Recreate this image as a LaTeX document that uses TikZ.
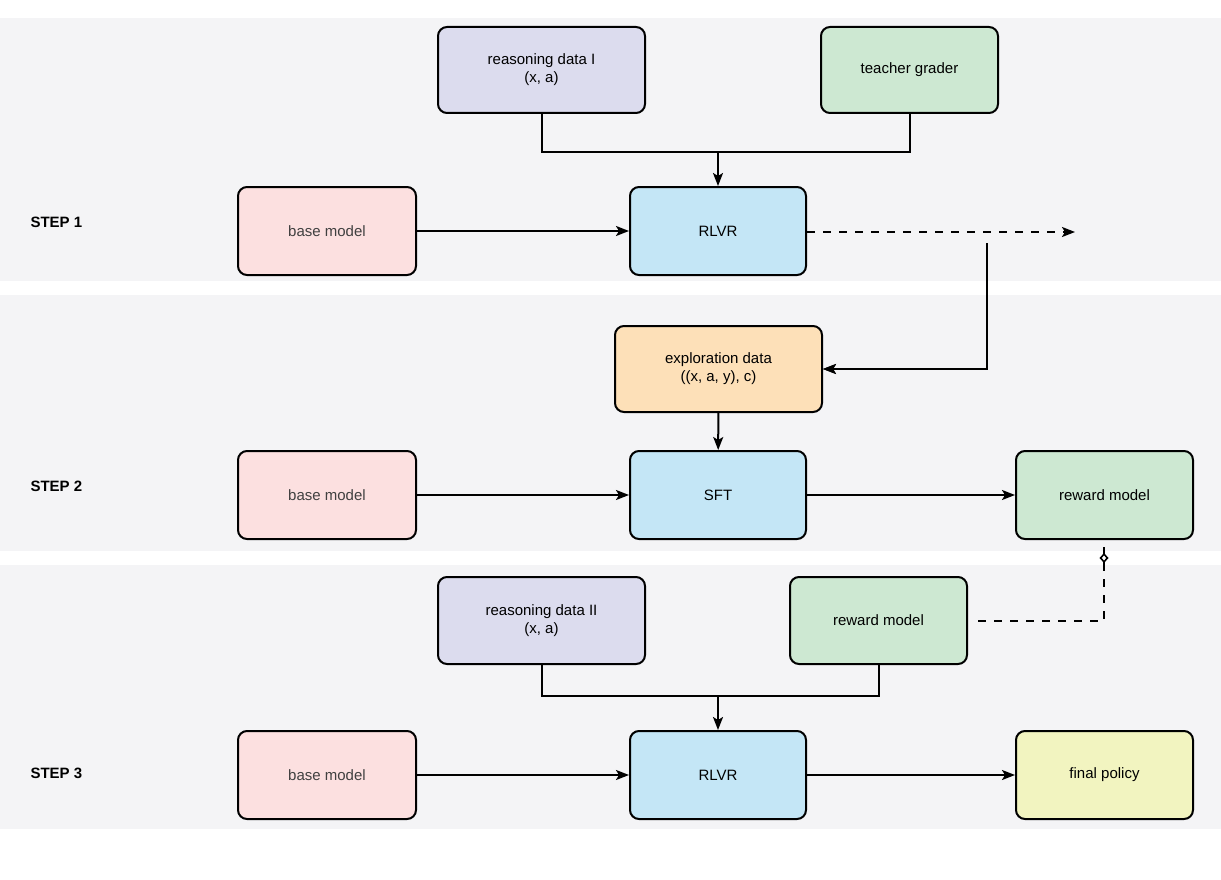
\documentclass[tikz,border=0pt]{standalone}
\usepackage{fontspec}
\setmainfont{Liberation Sans}
\usetikzlibrary{arrows.meta,positioning}
\definecolor{bandc}{HTML}{F4F4F6}
\definecolor{purp}{HTML}{DCDCEE}
\definecolor{grn}{HTML}{CDE8D2}
\definecolor{pnk}{HTML}{FCE0E0}
\definecolor{blu}{HTML}{C4E6F6}
\definecolor{org}{HTML}{FDE0B8}
\definecolor{ylw}{HTML}{F2F4C0}
\tikzset{
 bx/.style={draw=black,line width=2pt,rounded corners=9pt,font=\fontsize{15}{18}\selectfont,align=center,inner sep=0pt},
 ar/.style={line width=2pt,-{Stealth[length=13pt,width=10pt,inset=3pt]}},
 dl/.style={line width=2pt,dash pattern=on 8pt off 8pt},
 dia/.style={{Diamond[open,length=10pt,width=9pt,line width=1.6pt]}-},
 stp/.style={font=\bfseries\fontsize{15}{18}\selectfont,anchor=west}
}
\begin{document}
\begin{tikzpicture}[x=1pt,y=-1pt]
\useasboundingbox (0,0) rectangle (1221,880);
\fill[white] (0,0) rectangle (1221,880);
\fill[bandc] (0,18) rectangle (1221,281);
\fill[bandc] (0,295) rectangle (1221,551);
\fill[bandc] (0,565) rectangle (1221,829);
\node[stp] (s1) at (27,222) {STEP 1};
\node[stp] (s2) at (27,486) {STEP 2};
\node[stp] (s3) at (27,773) {STEP 3};
% step 1
\node[bx,fill=purp,minimum width=207pt,minimum height=86pt] (rd1) at (541.5,70) {reasoning data I\\(x, a)};
\node[bx,fill=grn,minimum width=177pt,minimum height=86pt] (tg) at (909.5,70) {teacher grader};
\node[bx,fill=pnk,minimum width=178pt,minimum height=88pt,text=black!75] (bm1) at (327,231) {base model};
\node[bx,fill=blu,minimum width=176pt,minimum height=88pt] (rl1) at (718,231) {RLVR};
\coordinate (e1) at (1075,232);
\coordinate (j1) at (718,152);
% step 2
\node[bx,fill=org,minimum width=207pt,minimum height=86pt] (ex) at (718.5,369) {exploration data\\((x, a, y), c)};
\node[bx,fill=pnk,minimum width=178pt,minimum height=88pt,text=black!75] (bm2) at (327,495) {base model};
\node[bx,fill=blu,minimum width=176pt,minimum height=88pt] (sft) at (718,495) {SFT};
\node[bx,fill=grn,minimum width=177pt,minimum height=88pt] (rm2) at (1104.5,495) {reward model};
\coordinate (d1) at (987,243);
% step 3
\node[bx,fill=purp,minimum width=207pt,minimum height=87pt] (rd2) at (541.5,620.5) {reasoning data II\\(x, a)};
\node[bx,fill=grn,minimum width=177pt,minimum height=87pt] (rm3) at (878.5,620.5) {reward model};
\node[bx,fill=pnk,minimum width=178pt,minimum height=88pt,text=black!75] (bm3) at (327,775) {base model};
\node[bx,fill=blu,minimum width=176pt,minimum height=88pt] (rl3) at (718,775) {RLVR};
\node[bx,fill=ylw,minimum width=177pt,minimum height=88pt] (fp) at (1104.5,775) {final policy};
\coordinate (d2) at (1104,553);
\coordinate (j3) at (718,696);
% connectors
\draw[line width=2pt] (rd1.south) |- (j1);
\draw[line width=2pt] (tg.south) |- (j1);
\draw[ar] (j1) -- (rl1.north);
\draw[ar] (bm1) -- (rl1);
\draw[dl,-{Stealth[length=13pt,width=10pt,inset=3pt]}] (rl1.east |- e1) -- (e1);
\draw[dia,line width=2pt] (d1) |- (ex.east) [ar];
\draw[ar] (d1) ++(0,6) |- (ex.east);
\draw[ar] (ex) -- (sft);
\draw[ar] (bm2) -- (sft);
\draw[ar] (sft) -- (rm2);
\draw[line width=2pt] (rd2.south) |- (j3);
\draw[line width=2pt] (rm3.south) |- (j3);
\draw[ar] (j3) -- (rl3.north);
\draw[ar] (bm3) -- (rl3);
\draw[ar] (rl3) -- (fp);
\draw[dl] (rm3.east) ++(10,0) -| ([yshift=6pt]d2);
\draw[dia,line width=2pt] (d2) -- ++(0,10);
\end{tikzpicture}
\end{document}
